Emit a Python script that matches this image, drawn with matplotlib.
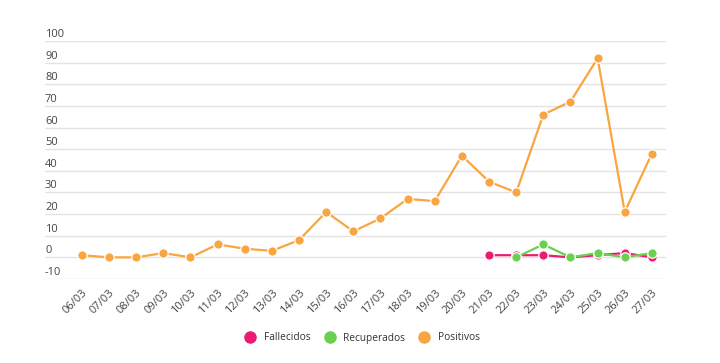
import numpy as np
import matplotlib
matplotlib.use("Agg")
import matplotlib.pyplot as plt
from matplotlib.lines import Line2D
import matplotlib.transforms as mtransforms

dates = ["06/03", "07/03", "08/03", "09/03", "10/03", "11/03", "12/03", "13/03",
         "14/03", "15/03", "16/03", "17/03", "18/03", "19/03", "20/03", "21/03",
         "22/03", "23/03", "24/03", "25/03", "26/03", "27/03"]
nan = np.nan
fallecidos = [nan]*15 + [1, 1, 1, 0, 1, 2, 0]
recuperados = [nan]*16 + [0, 6, 0, 2, 0, 2]
positivos = [1, 0, 0, 2, 0, 6, 4, 3, 8, 21, 12, 18, 27, 26, 47, 35, 30, 66, 72, 92, 21, 48]
yticks = [-10, 0, 10, 20, 30, 40, 50, 60, 70, 80, 90, 100]

series_names = ["Fallecidos", "Recuperados", "Positivos"]
colors = ["#EC1C73", "#6CCF4F", "#F9A540"]

plt.rcParams['font.family'] = ['Open Sans', 'DejaVu Sans']

fig = plt.figure(figsize=(7.2, 3.63), dpi=100)
ax = fig.add_axes([45/720, 1-279/363, (666-45)/720, (279-41)/363])

x = np.arange(len(dates))
for i, (vals, c) in enumerate(zip([fallecidos, recuperados, positivos], colors)):
    ax.plot(x, vals, color=c, lw=1.6, marker='o', markersize=6.8,
            markerfacecolor=c, markeredgecolor='white', markeredgewidth=0.9,
            zorder=3+i, clip_on=False)

ax.set_xlim(-1.36, len(dates) - 1 + 0.52)
ax.set_ylim(-10, 100)
ax.set_yticks(yticks)
ax.set_yticklabels([str(v) for v in yticks])
ax.yaxis.grid(True, color="#e3e3e3", lw=1)
ax.set_axisbelow(True)
for s in ax.spines.values():
    s.set_visible(False)
ax.tick_params(axis='y', length=0, pad=0, labelsize=8, labelcolor="#444444")
for lab in ax.get_yticklabels():
    lab.set_ha('left')
    lab.set_va('bottom')
    lab.set_transform(lab.get_transform() + mtransforms.ScaledTranslation(0, 1/100, fig.dpi_scale_trans))

ax.set_xticks(x)
ax.set_xticklabels(dates, rotation=45, ha='right', va='top', rotation_mode='anchor')
ax.tick_params(axis='x', length=0, pad=6, labelsize=8, labelcolor="#444444")

handles = [Line2D([], [], marker='o', ls='none', markersize=8, markerfacecolor=c,
                  markeredgecolor=c) for c in colors]
fig.legend(handles, series_names, loc='center', bbox_to_anchor=(0.5, 1-338/363),
           ncol=3, frameon=False, fontsize=7.3, handletextpad=0.35, columnspacing=0.9,
           labelcolor="#333333")

fig.savefig("out.png", dpi=100)
